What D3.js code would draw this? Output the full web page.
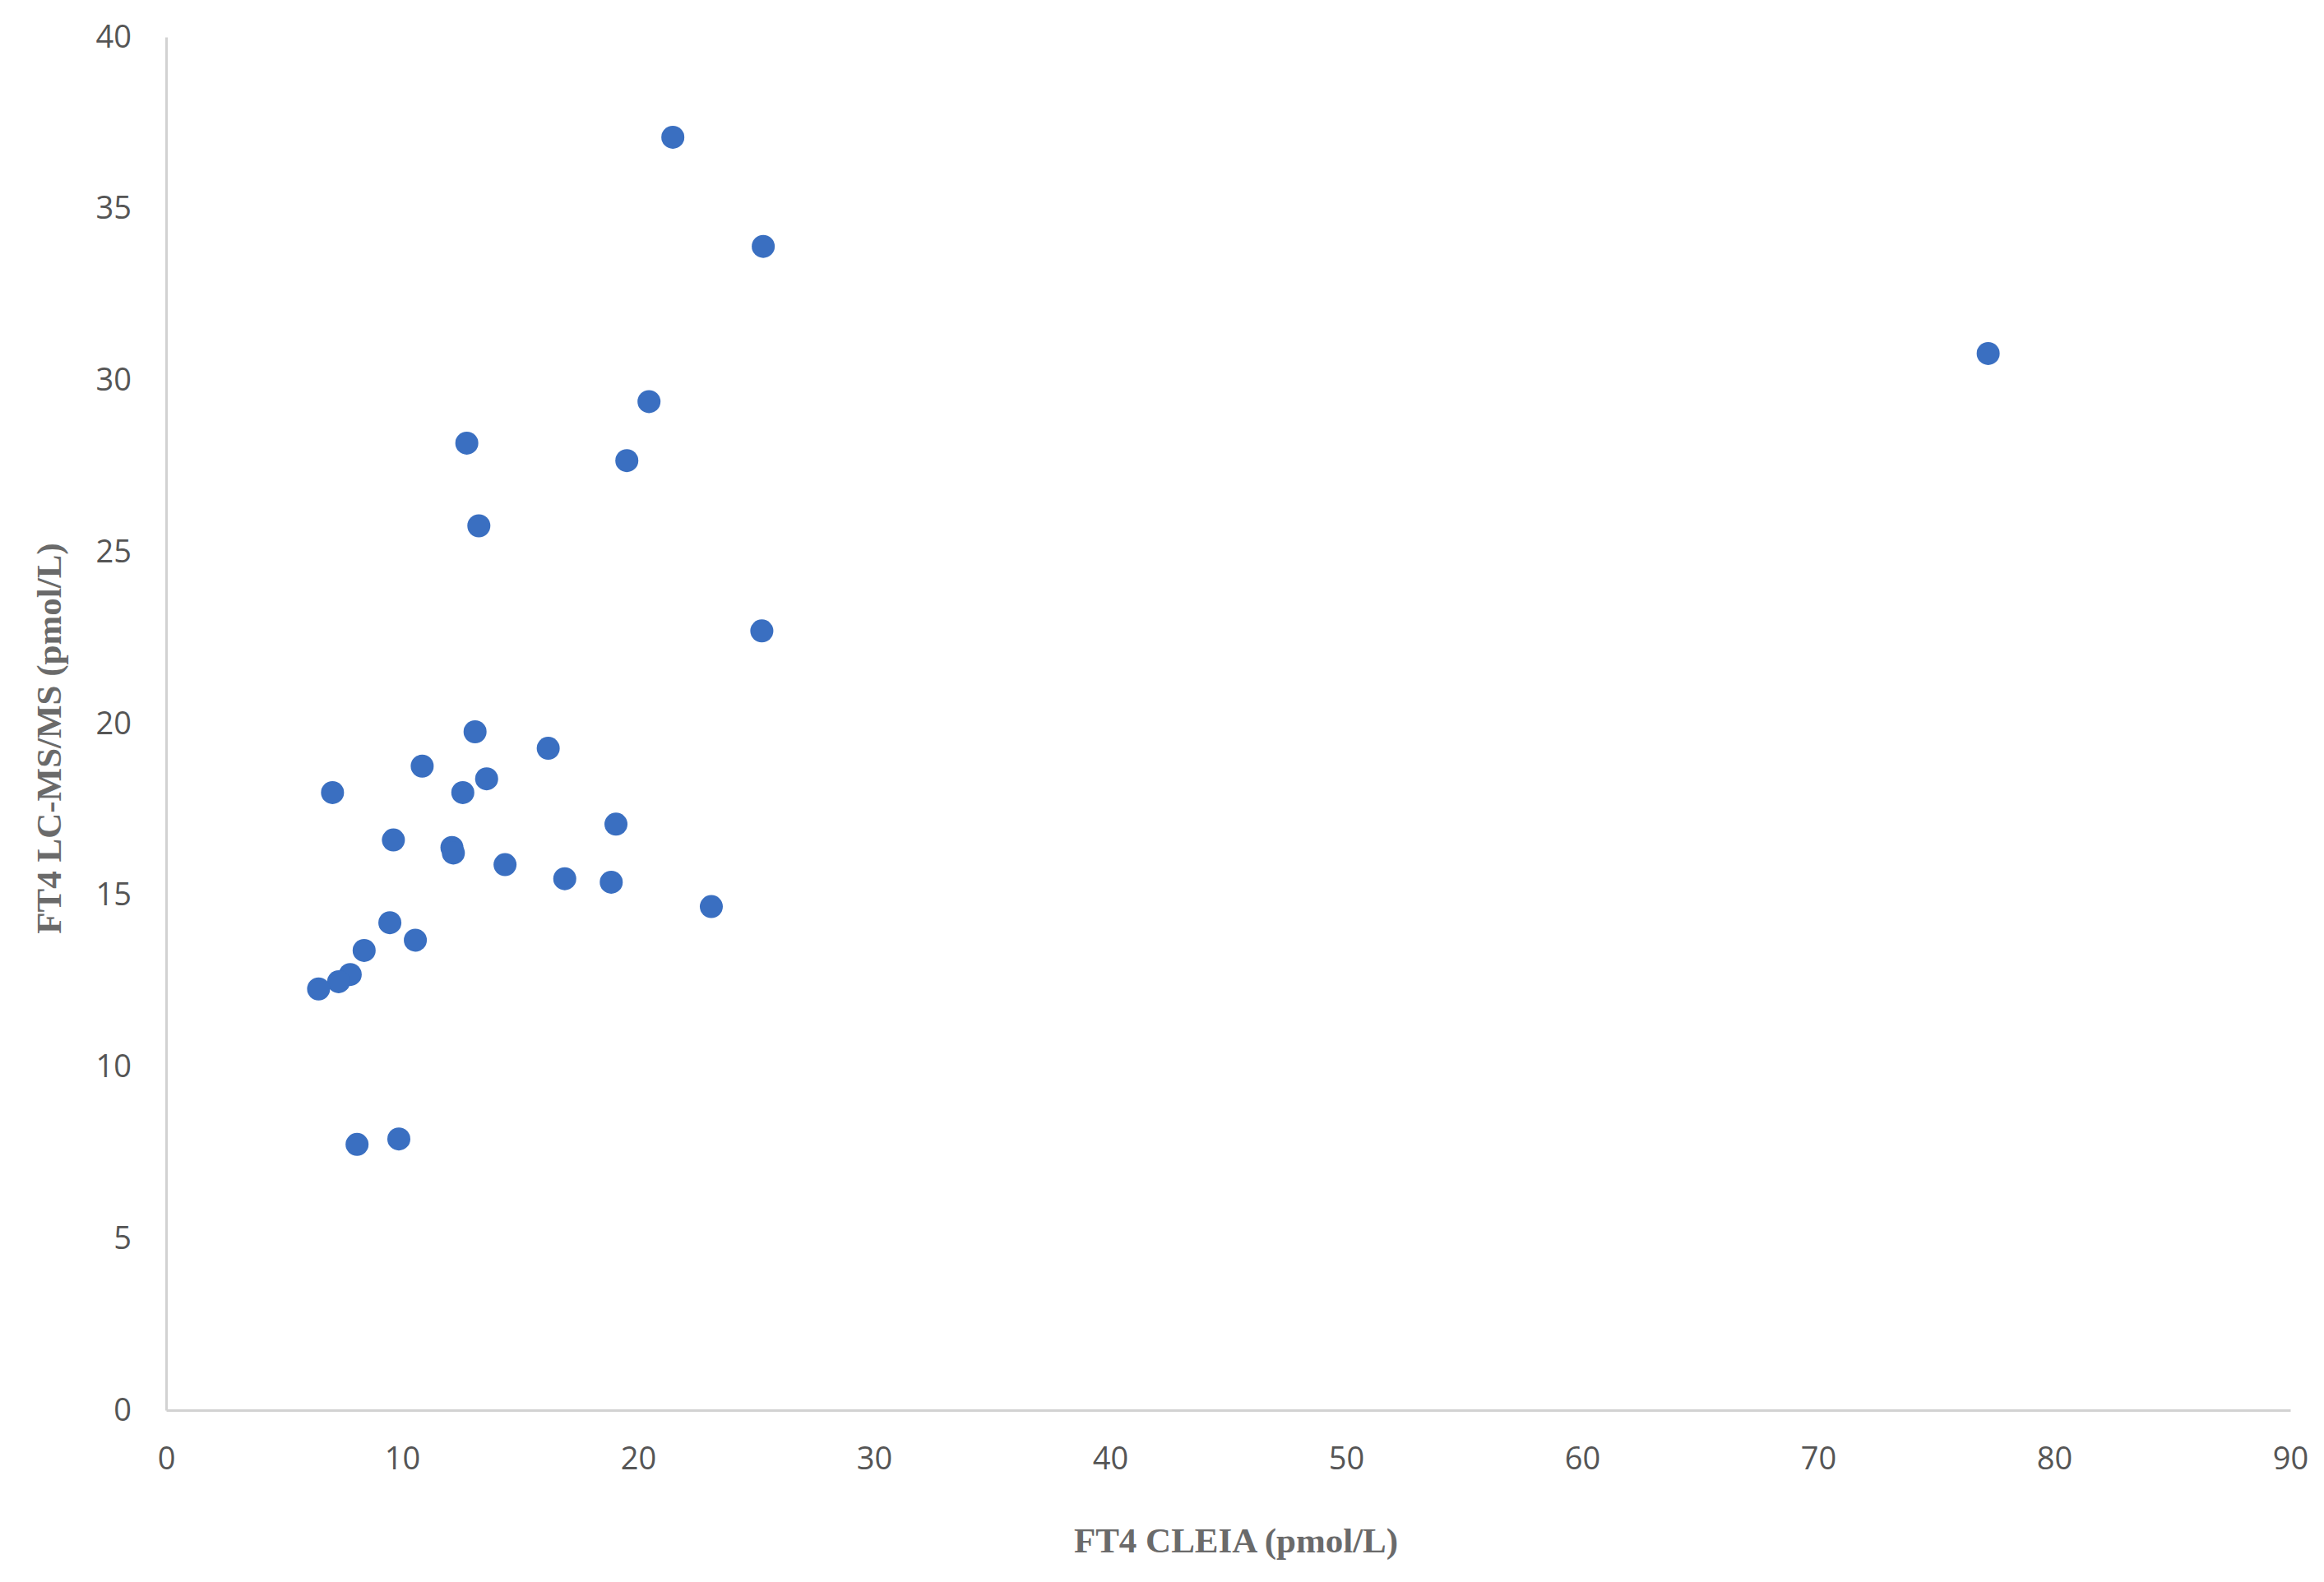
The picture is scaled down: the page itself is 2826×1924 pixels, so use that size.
<!DOCTYPE html>
<html>
<head>
<meta charset="utf-8">
<script src="https://cdn.jsdelivr.net/npm/d3@7"></script>
<style>
  body { margin: 0; background: #fff; }
</style>
</head>
<body>
<div id="chart"></div>
<script>
// FT4 CLEIA vs FT4 LC-MS/MS
const cleia = [21.47, 25.3, 77.2, 20.46, 12.74, 19.52, 13.25, 25.24,
  13.09, 16.19, 10.85, 7.05, 12.57, 13.58, 19.06, 9.63, 12.11, 12.17,
  14.36, 16.89, 18.86, 23.1, 9.48, 10.56, 8.39, 7.8, 7.31, 6.46, 8.09, 9.86];
const lcms = [37.08, 33.9, 30.78, 29.38, 28.17, 27.66, 25.76, 22.7,
  19.76, 19.28, 18.76, 17.99, 17.99, 18.39, 17.07, 16.61, 16.39, 16.23,
  15.89, 15.48, 15.38, 14.67, 14.2, 13.69, 13.39, 12.69, 12.48, 12.27, 7.74, 7.9];

const xTicks = [0, 10, 20, 30, 40, 50, 60, 70, 80, 90];
const yTicks = [0, 5, 10, 15, 20, 25, 30, 35, 40];

const xTitle = "FT4 CLEIA (pmol/L)";
const yTitle = "FT4 LC-MS/MS (pmol/L)";

const width = 2826, height = 1924;
const margin = { top: 45, right: 41, bottom: 209, left: 202 };

const data = cleia.map((v, i) => ({ x: v, y: lcms[i] }));

const x = d3.scaleLinear()
  .domain([0, 90])
  .range([margin.left, width - margin.right]);

const y = d3.scaleLinear()
  .domain([0, 40])
  .range([height - margin.bottom, margin.top]);

const svg = d3.select("#chart")
  .append("svg")
  .attr("width", width)
  .attr("height", height);

const tickFont = "'Open Sans', 'Noto Sans', sans-serif";
const titleFont = "'Liberation Serif', 'DejaVu Serif', serif";

// x axis
svg.append("g")
  .attr("transform", `translate(0,${y(0)})`)
  .call(d3.axisBottom(x).tickValues(xTicks).tickSize(0).tickPadding(45))
  .call(g => g.select(".domain").attr("stroke", "#d2d2d2").attr("stroke-width", 3))
  .call(g => g.selectAll("text")
    .attr("font-family", tickFont)
    .attr("font-size", 38)
    .attr("fill", "#555"));

// y axis
svg.append("g")
  .attr("transform", `translate(${x(0)},0)`)
  .call(d3.axisLeft(y).tickValues(yTicks).tickSize(0).tickPadding(42))
  .call(g => g.select(".domain").attr("stroke", "#d2d2d2").attr("stroke-width", 3))
  .call(g => g.selectAll("text")
    .attr("font-family", tickFont)
    .attr("font-size", 38)
    .attr("fill", "#555"));

// points
svg.append("g")
  .selectAll("circle")
  .data(data)
  .join("circle")
  .attr("cx", d => x(d.x))
  .attr("cy", d => y(d.y))
  .attr("r", 14)
  .attr("fill", "#3a6fc1");

// axis titles
svg.append("text")
  .attr("x", 1503)
  .attr("y", 1888)
  .attr("text-anchor", "middle")
  .attr("font-family", titleFont)
  .attr("font-weight", "bold")
  .attr("font-size", 43)
  .attr("fill", "#6a6a6a")
  .text(xTitle);

svg.append("text")
  .attr("transform", "translate(74,898) rotate(-90)")
  .attr("text-anchor", "middle")
  .attr("font-family", titleFont)
  .attr("font-weight", "bold")
  .attr("font-size", 43)
  .attr("fill", "#6a6a6a")
  .text(yTitle);
</script>
</body>
</html>
